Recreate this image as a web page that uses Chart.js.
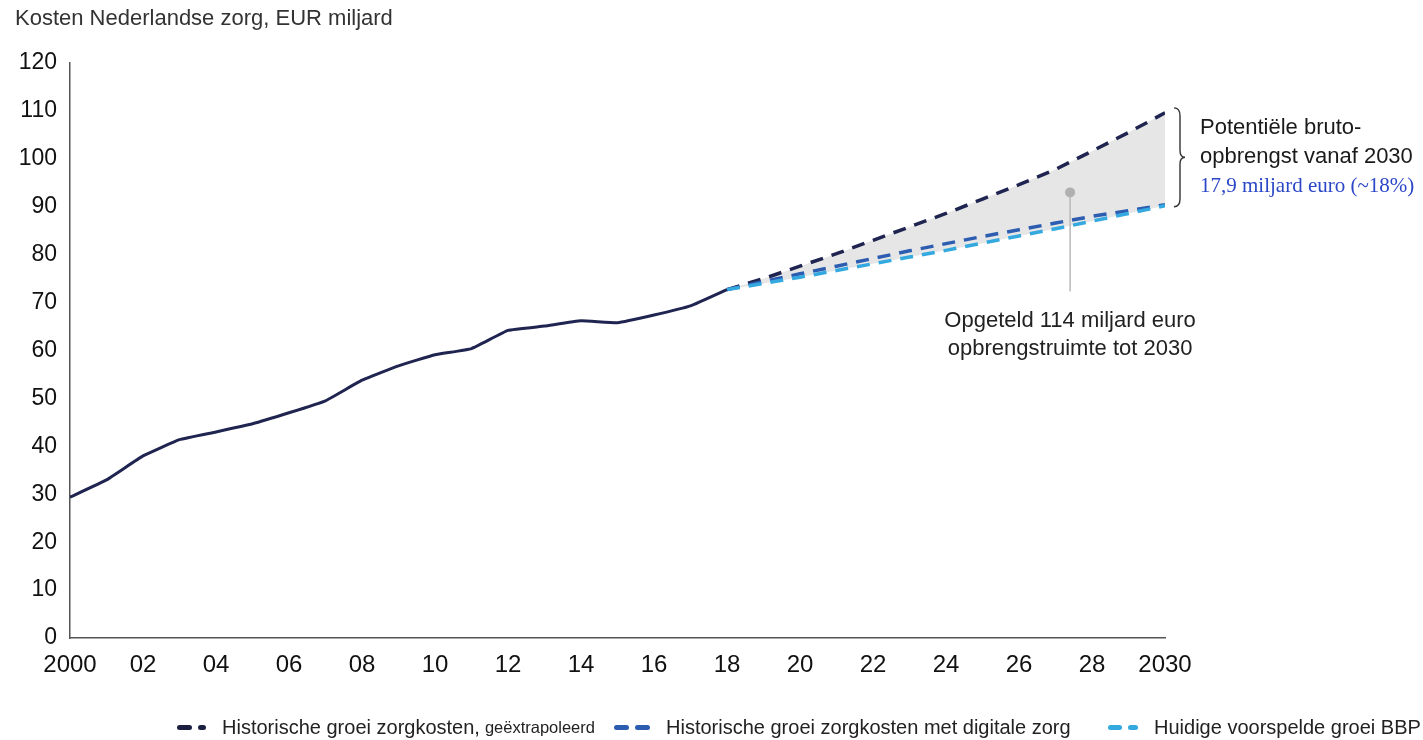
<!DOCTYPE html>
<html>
<head>
<meta charset="utf-8">
<script src="https://cdn.jsdelivr.net/npm/chart.js@4"></script>
<style>
  body { margin: 0; background: #fff; font-family: "Liberation Sans", Arial, sans-serif; }
  #wrap { position: relative; width: 1423px; height: 740px; overflow: hidden; }
  #chart { position: absolute; left: 0; top: 0; }
  .title { position: absolute; left: 15px; top: 5px; font-size: 22px; color: #333; }
  .legend-item { position: absolute; top: 715px; height: 24px; display: flex; align-items: center; font-size: 20px; color: #222; white-space: nowrap; }
  .legend-item small { font-size: 16.5px; margin-left: 5px; }
  .mk { display: inline-block; height: 5px; border-radius: 3px; margin-right: 6px; }
  .mk-wrap { display: flex; align-items: center; margin-right: 10px; }
</style>
</head>
<body>
<div id="wrap">
  <canvas id="chart" width="1423" height="740"></canvas>
  <div class="title">Kosten Nederlandse zorg, EUR miljard</div>
  <div class="legend-item" style="left:177px">
    <span class="mk-wrap"><span class="mk" style="width:15px;background:#1b2040"></span><span class="mk" style="width:8px;background:#1b2040"></span></span>Historische groei zorgkosten,<small>geëxtrapoleerd</small>
  </div>
  <div class="legend-item" style="left:614px">
    <span class="mk-wrap"><span class="mk" style="width:15px;background:#2c5db0"></span><span class="mk" style="width:15px;background:#2c5db0"></span></span>Historische groei zorgkosten met digitale zorg
  </div>
  <div class="legend-item" style="left:1108px">
    <span class="mk-wrap"><span class="mk" style="width:14px;background:#34a9e0"></span><span class="mk" style="width:10px;background:#34a9e0"></span></span>Huidige voorspelde groei BBP
  </div>
</div>
<script>
// Historical costs 2000-2018
const histYears = [2000, 2001, 2002, 2003, 2004, 2005, 2006, 2007, 2008, 2009,
                   2010, 2011, 2012, 2013, 2014, 2015, 2016, 2017, 2018];
const historical = [29.4, 33.0, 38.0, 41.4, 43.0, 44.7, 47.0, 49.5, 53.8, 56.8,
                    59.1, 60.4, 64.2, 65.1, 66.2, 65.8, 67.4, 69.3, 72.7];

// Projections 2018-2030
const projYears = [2018, 2019, 2020, 2021, 2022, 2023, 2024, 2025, 2026, 2027, 2028, 2029, 2030];
const extrapolated = [72.7, 75.0, 77.6, 80.2, 83.0, 85.8, 88.6, 91.6, 94.6, 97.8, 101.6, 105.5, 109.6];
const digital = [72.7, 74.4, 76.0, 77.6, 79.2, 80.8, 82.3, 83.8, 85.2, 86.6, 88.0, 89.2, 90.4];
const gdpGrowth = [72.7, 74.0, 75.3, 76.7, 78.1, 79.5, 80.9, 82.4, 83.9, 85.4, 87.0, 88.6, 90.2];

const seriesLabels = [
    'Historisch',
    'Historische groei zorgkosten, geëxtrapoleerd',
    'Historische groei zorgkosten met digitale zorg',
    'Huidige voorspelde groei BBP'
];

const braceText = ['Potentiële bruto-', 'opbrengst vanaf 2030', '17,9 miljard euro (~18%)'];
const sumText = ['Opgeteld 114 miljard euro', 'opbrengstruimte tot 2030'];
const pointer = { x: 2027.4, y: 93, yEnd: 72.3 };

const toPoints = (xs, ys) => xs.map((x, i) => ({ x: x, y: ys[i] }));

const FONT = '"Liberation Sans", Arial, sans-serif';

// Draws the brace, the pointer dot/line and the text notes
const notesPlugin = {
    id: 'notes',
    afterDatasetsDraw(chart) {
        const { ctx, scales: { x, y } } = chart;
        ctx.save();

        // pointer line + dot
        const px = x.getPixelForValue(pointer.x);
        const py = y.getPixelForValue(pointer.y);
        ctx.strokeStyle = '#b9b9b9';
        ctx.lineWidth = 1.5;
        ctx.beginPath();
        ctx.moveTo(px, py);
        ctx.lineTo(px, y.getPixelForValue(pointer.yEnd));
        ctx.stroke();
        ctx.fillStyle = '#b0b0b0';
        ctx.beginPath();
        ctx.arc(px, py, 5, 0, Math.PI * 2);
        ctx.fill();

        // text under pointer
        ctx.fillStyle = '#222';
        ctx.font = '22px ' + FONT;
        ctx.textAlign = 'center';
        ctx.textBaseline = 'middle';
        const ty = y.getPixelForValue(pointer.yEnd) + 29;
        ctx.fillText(sumText[0], px, ty);
        ctx.fillText(sumText[1], px, ty + 28);

        // curly brace at the right
        const bx = x.right + 12;
        const top = y.getPixelForValue(extrapolated[extrapolated.length - 1]) - 5;
        const bot = y.getPixelForValue(gdpGrowth[gdpGrowth.length - 1]) + 1;
        const mid = (top + bot) / 2;
        ctx.strokeStyle = '#333';
        ctx.lineWidth = 1.4;
        ctx.beginPath();
        ctx.moveTo(bx - 3, top);
        ctx.quadraticCurveTo(bx + 3, top, bx + 3, top + 8);
        ctx.lineTo(bx + 3, mid - 7);
        ctx.quadraticCurveTo(bx + 3, mid, bx + 8, mid);
        ctx.quadraticCurveTo(bx + 3, mid, bx + 3, mid + 7);
        ctx.lineTo(bx + 3, bot - 8);
        ctx.quadraticCurveTo(bx + 3, bot, bx - 3, bot);
        ctx.stroke();

        // brace text
        ctx.textAlign = 'left';
        ctx.fillStyle = '#1a1a1a';
        ctx.font = '22px ' + FONT;
        ctx.fillText(braceText[0], bx + 23, mid - 29);
        ctx.fillText(braceText[1], bx + 23, mid);
        ctx.fillStyle = '#2b47c6';
        ctx.font = '21px "Liberation Serif", "DejaVu Serif", serif';
        ctx.fillText(braceText[2], bx + 23, mid + 29);

        ctx.restore();
    }
};

const ctx = document.getElementById('chart').getContext('2d');
new Chart(ctx, {
    type: 'line',
    data: {
        datasets: [{
            label: seriesLabels[0],
            data: toPoints(histYears, historical),
            borderColor: '#1f2550',
            borderWidth: 3,
            pointRadius: 0,
            tension: 0.1,
            fill: false,
            order: 0
        }, {
            label: seriesLabels[1],
            data: toPoints(projYears, extrapolated),
            borderColor: '#1f2550',
            borderWidth: 3.5,
            borderDash: [13, 9],
            pointRadius: 0,
            fill: { target: 3 },
            backgroundColor: '#e6e6e6',
            order: 3
        }, {
            label: seriesLabels[2],
            data: toPoints(projYears, digital),
            borderColor: '#2c5db0',
            borderWidth: 3.5,
            borderDash: [13, 9],
            pointRadius: 0,
            fill: false,
            order: 2
        }, {
            label: seriesLabels[3],
            data: toPoints(projYears, gdpGrowth),
            borderColor: '#34a9e0',
            borderWidth: 3.5,
            borderDash: [13, 9],
            pointRadius: 0,
            fill: false,
            order: 1
        }]
    },
    options: {
        responsive: false,
        animation: false,
        layout: { padding: { left: 0, top: 63, right: 258, bottom: 57 } },
        plugins: {
            legend: { display: false },
            tooltip: { enabled: false }
        },
        scales: {
            x: {
                type: 'linear',
                min: 2000,
                max: 2030,
                grid: { display: false, drawTicks: false },
                border: { color: '#555', width: 1.5 },
                ticks: {
                    stepSize: 2,
                    padding: 13,
                    color: '#111',
                    font: { size: 24, family: FONT },
                    maxRotation: 0,
                    callback: (v) => (v === 2000 || v === 2030) ? String(v) : String(v).slice(2)
                },
                afterFit: (s) => { s.height = 45; }
            },
            y: {
                min: 0,
                max: 120,
                grid: { display: false, drawTicks: false },
                border: { color: '#555', width: 1.5 },
                ticks: {
                    stepSize: 10,
                    padding: 13,
                    color: '#111',
                    font: { size: 23, family: FONT }
                },
                afterFit: (s) => { s.width = 70; }
            }
        }
    },
    plugins: [notesPlugin]
});
</script>
</body>
</html>
